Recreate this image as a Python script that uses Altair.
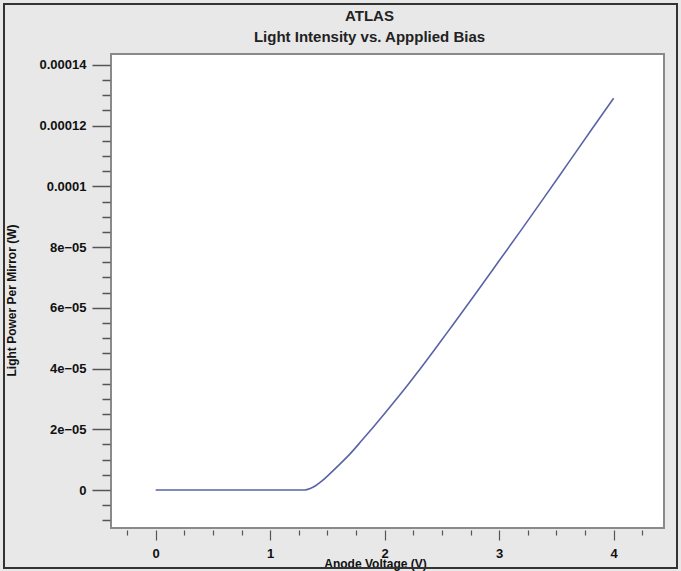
import altair as alt
import pandas as pd

# ---- data ----
voltage = [0.0, 0.2, 0.4, 0.6, 0.8, 1.0, 1.2, 1.3, 1.35, 1.4, 1.45, 1.5, 1.6, 1.7, 1.8, 1.9,
           2.0, 2.1, 2.2, 2.3, 2.4, 2.5, 2.6, 2.8, 3.0, 3.2, 3.4, 3.6, 3.8, 4.0]
power = [0.0, 0.0, 0.0, 0.0, 0.0, 0.0, 0.0, 0.0, 0.5e-6, 1.5e-6, 2.9e-6, 4.6e-6, 8.2e-6,
         1.2e-5, 1.63e-5, 2.07e-5, 2.52e-5, 2.98e-5, 3.45e-5, 3.94e-5, 4.44e-5, 4.95e-5,
         5.46e-5, 6.5e-5, 7.55e-5, 8.6e-5, 9.67e-5, 1.075e-4, 1.183e-4, 1.29e-4]

x_major = [0, 1, 2, 3, 4]
x_major_labels = ["0", "1", "2", "3", "4"]
x_minor = [-0.25, 0.25, 0.5, 0.75, 1.25, 1.5, 1.75, 2.25, 2.5, 2.75, 3.25, 3.5, 3.75, 4.25]

y_major = [0, 2e-5, 4e-5, 6e-5, 8e-5, 1e-4, 1.2e-4, 1.4e-4]
y_major_labels = ["0", "2e\u221205", "4e\u221205", "6e\u221205", "8e\u221205", "0.0001", "0.00012", "0.00014"]
y_minor = [-1e-5, -5e-6, 5e-6, 1e-5, 1.5e-5, 2.5e-5, 3e-5, 3.5e-5, 4.5e-5, 5e-5, 5.5e-5,
           6.5e-5, 7e-5, 7.5e-5, 8.5e-5, 9e-5, 9.5e-5, 1.05e-4, 1.1e-4, 1.15e-4, 1.25e-4,
           1.3e-4, 1.35e-4]

df = pd.DataFrame({"V": voltage, "P": power})

W, H = 553, 474
FONT = "Liberation Sans Narrow, Liberation Sans, Arial"


def label_expr(values, labels, scale):
    parts = []
    for v, l in zip(values, labels):
        parts.append(f"round(datum.value*{scale})==={round(v*scale)} ? '{l}'")
    return " : ".join(parts) + " : ''"


def size_expr(values, scale, big, small):
    conds = " || ".join(f"round(datum.value*{scale})==={round(v*scale)}" for v in values)
    return f"({conds}) ? {big} : {small}"


x_axis = alt.Axis(
    values=sorted(x_major + x_minor),
    labelExpr=label_expr(x_major, x_major_labels, 100),
    tickSize=alt.ExprRef(expr=size_expr(x_major, 100, 10, 5)),
    tickColor="#555", tickWidth=1.2, domain=False, grid=False, offset=2,
    labelFont=FONT, labelFontSize=13, labelColor="#111", labelPadding=7,
    labelFontWeight="bold",
    title="Anode Voltage (V)", titleFont=FONT, titleFontSize=12, titleColor="#111",
    titleFontWeight="bold", titleX=264, titleY=33, titleBaseline="middle", titleAlign="center",
)

y_axis = alt.Axis(
    values=sorted(y_major + y_minor),
    labelExpr=label_expr(y_major, y_major_labels, 1e6),
    tickSize=alt.ExprRef(expr=size_expr(y_major, 1e6, 18, 8)),
    tickColor="#555", tickWidth=1.5, domain=False, grid=False, offset=1,
    labelFont=FONT, labelFontSize=13, labelColor="#111", labelPadding=6,
    labelFontWeight="bold",
    title="Light Power Per Mirror (W)", titleFont=FONT, titleFontSize=12, titleColor="#111",
    titleFontWeight="bold", titleX=-99, titleY=246, titleAngle=270, titleAlign="center",
    titleBaseline="middle",
)

line = alt.Chart(df).mark_line(color="#5a63a6", strokeWidth=1.6, interpolate="monotone").encode(
    x=alt.X("V:Q", scale=alt.Scale(domain=[-0.39, 4.44], nice=False, zero=False), axis=x_axis),
    y=alt.Y("P:Q", scale=alt.Scale(domain=[-1.25e-5, 1.436e-4], nice=False, zero=False), axis=y_axis),
)

border = alt.Chart(pd.DataFrame({"a": [0]})).mark_rect(
    fill=None, stroke="#333", strokeWidth=2, fillOpacity=0
).encode(
    x=alt.value(-107), x2=alt.value(W + 13), y=alt.value(-50), y2=alt.value(H + 40)
)

chart = alt.layer(border, line).properties(
    width=W, height=H,
    title=alt.Title(
        "ATLAS", subtitle="Light Intensity vs. Appplied Bias",
        font=FONT, fontSize=15, fontWeight="bold", color="#222",
        subtitleFont=FONT, subtitleFontSize=15, subtitleFontWeight="bold", subtitleColor="#222",
        subtitlePadding=6, anchor="middle", offset=-42, dx=-18,
    ),
    autosize=alt.AutoSizeParams(type="none"),
    padding={"left": 111, "top": 54, "right": 17, "bottom": 43},
).configure(
    background="#e8e8e8",
).configure_view(
    fill="white", stroke="#8a8a8a", strokeWidth=2,
)

chart.save("out.html", embed_options={"renderer": "svg", "actions": False})
